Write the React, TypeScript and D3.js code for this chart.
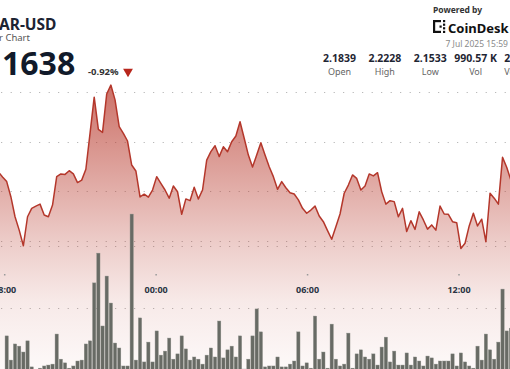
import React, { useEffect, useRef } from 'react';
import * as d3 from 'd3';

const WIDTH = 510;
const HEIGHT = 369;

// 10 minute closes, first value two steps before the 18:00 bar
const PRICE_START = -2;
const prices = [
  2.1877, 2.1857,
  2.1838, 2.1777, 2.1696, 2.1642, 2.1579, 2.1696, 2.1730, 2.1739, 2.1747, 2.1703,
  2.1696, 2.1743, 2.1858, 2.1869, 2.1867, 2.1882, 2.1869, 2.1834, 2.1844, 2.1888,
  2.2033, 2.2179, 2.2049, 2.2037, 2.2192, 2.2228, 2.2168, 2.2060, 2.2033, 2.2002,
  2.1905, 2.1881, 2.1776, 2.1787, 2.1775, 2.1804, 2.1858, 2.1831, 2.1804, 2.1771,
  2.1820, 2.1797, 2.1706, 2.1768, 2.1761, 2.1815, 2.1768, 2.1804, 2.1925, 2.1959,
  2.1983, 2.1939, 2.1979, 2.1959, 2.1999, 2.2022, 2.2080, 2.2013, 2.1945, 2.1897,
  2.1945, 2.1995, 2.1945, 2.1898, 2.1858, 2.1807, 2.1838, 2.1813, 2.1793, 2.1788,
  2.1764, 2.1730, 2.1710, 2.1723, 2.1739, 2.1699, 2.1676, 2.1640, 2.1605, 2.1656,
  2.1707, 2.1791, 2.1824, 2.1865, 2.1851, 2.1804, 2.1820, 2.1869, 2.1861, 2.1874,
  2.1797, 2.1747, 2.1761, 2.1757, 2.1696, 2.1730, 2.1636, 2.1680, 2.1645, 2.1716,
  2.1683, 2.1646, 2.1663, 2.1642, 2.1739, 2.1707, 2.1706, 2.1676, 2.1672, 2.1568,
  2.1589, 2.1659, 2.1710, 2.1659, 2.1686, 2.1595, 2.1791, 2.1771, 2.1747, 2.1936,
  2.1896, 2.1844
];

// volume per 10 minutes (thousands), from 18:00
const volumes = [
  11.0, 3.2, 8.4, 7.7, 5.8, 9.4, 1.0, 0.2, 0.6, 1.3,
  1.6, 1.9, 11.6, 3.5, 2.3, 0.6, 1.3, 2.9, 3.2, 8.4,
  9.4, 28.1, 37.7, 14.2, 30.3, 21.6, 8.7, 7.1, 1.3, 1.3,
  50.3, 3.2, 16.8, 2.6, 9.0, 2.6, 12.6, 4.8, 6.1, 10.3,
  3.5, 5.2, 11.0, 6.8, 3.2, 4.2, 3.5, 1.9, 4.8, 7.1,
  4.2, 15.8, 3.9, 6.5, 7.7, 4.2, 11.0, 0.3, 3.5, 11.0,
  19.7, 12.3, 1.0, 1.3, 1.3, 4.2, 1.0, 1.0, 1.9, 2.9,
  12.3, 1.3, 2.3, 0.6, 17.4, 3.5, 5.8, 0.6, 14.8, 3.5,
  1.3, 1.9, 11.9, 0.6, 5.2, 6.5, 4.2, 3.5, 5.2, 1.6,
  7.4, 10.6, 2.6, 6.1, 1.6, 1.6, 5.5, 1.6, 4.2, 2.9,
  1.3, 4.5, 3.9, 1.9, 2.9, 2.9, 2.9, 5.2, 1.3, 5.5,
  2.6, 1.3, 0.6, 7.7, 3.2, 11.6, 6.5, 3.5, 9.0, 26.1,
  12.6, 13.5
];

const priceTicks = [2.16, 2.18, 2.2, 2.22];
const volumeTicks = [20, 40];
const timeTicks = ['2025-07-06T18:00', '2025-07-07T00:00', '2025-07-07T06:00', '2025-07-07T12:00'];

const statValues = ['2.1839', '2.2228', '2.1533', '990.57 K', '2.16 M'];
const statLabels = ['Open', 'High', 'Low', 'Vol', 'Vol USD'];

const FONT = '"Noto Sans", "Open Sans", sans-serif';

const App = () => {
  const svgRef = useRef<SVGSVGElement>(null);

  useEffect(() => {
    document.body.style.margin = '0';
    const svg = d3.select(svgRef.current);
    svg.selectAll('*').remove();

    const x = d3.scaleLinear().domain([0, 120]).range([6.7, 506.7]);
    const xTime = d3.scaleTime()
      .domain([new Date(timeTicks[0]), new Date(timeTicks[3])])
      .range([4.7, 459]);
    const y = d3.scaleLinear().domain([2.16, 2.22]).range([240.5, 92]);
    const yVol = d3.scaleLinear().domain([0, 40]).range([370, 246]);

    const defs = svg.append('defs');
    const grad = defs.append('linearGradient')
      .attr('id', 'areaFill')
      .attr('gradientUnits', 'userSpaceOnUse')
      .attr('x1', 0).attr('x2', 0).attr('y1', 84).attr('y2', HEIGHT);
    [[0, 0.72], [0.55, 0.26], [0.76, 0.11], [1, 0.03]].forEach(([o, a]) => {
      grad.append('stop').attr('offset', o).attr('stop-color', '#b8392c').attr('stop-opacity', a);
    });

    // dotted grid
    const gridRows = [...priceTicks.map(d => y(d)), ...volumeTicks.map(d => yVol(d))];
    svg.append('g').selectAll('line').data(gridRows).enter().append('line')
      .attr('x1', 1.2).attr('x2', WIDTH)
      .attr('y1', d => Math.round(d) + 0.5).attr('y2', d => Math.round(d) + 0.5)
      .attr('stroke', '#a9a9a9')
      .attr('stroke-width', 1)
      .attr('stroke-dasharray', '1 8.5');

    const pts = prices.map((p, i) => ({ i: i + PRICE_START, p }));

    const area = d3.area<any>()
      .x(d => x(d.i))
      .y0(HEIGHT)
      .y1(d => y(d.p));
    svg.append('path').datum(pts).attr('d', area).attr('fill', 'url(#areaFill)');

    // time axis
    const axis = svg.append('g');
    timeTicks.forEach(t => {
      const tx = xTime(new Date(t));
      axis.append('rect').attr('x', tx - 0.75).attr('y', 274).attr('width', 1.5).attr('height', 1.5).attr('fill', '#999');
      axis.append('text')
        .attr('x', tx).attr('y', 292.5)
        .attr('text-anchor', 'middle')
        .style('font', `bold 9px ${FONT}`)
        .attr('fill', '#2b3444')
        .text(d3.timeFormat('%H:%M')(new Date(t)));
    });

    // volume bars
    svg.append('g').selectAll('rect').data(volumes).enter().append('rect')
      .attr('x', (d, i) => x(i) - 1.65)
      .attr('width', 3.3)
      .attr('y', d => yVol(d))
      .attr('height', d => yVol(0) - yVol(d))
      .attr('fill', '#686b65')
      .attr('stroke', '#8e918b')
      .attr('stroke-width', 0.4);

    const line = d3.line<any>().x(d => x(d.i)).y(d => y(d.p));
    svg.append('path').datum(pts).attr('d', line)
      .attr('fill', 'none')
      .attr('stroke', '#b4372b')
      .attr('stroke-width', 1.5)
      .attr('stroke-linejoin', 'round');

    // header
    const head = svg.append('g').style('font-family', FONT);
    head.append('text').attr('x', -1).attr('y', 29.5).style('font-weight', 700).style('font-size', '15.5px')
      .attr('fill', '#1c2433').text('AR-USD');
    head.append('text').attr('x', -1).attr('y', 41).style('font-size', '9.5px')
      .attr('fill', '#555').text('r Chart');
    head.append('text').attr('x', 2).attr('y', 74.5).style('font-weight', 700).style('font-size', '32px')
      .attr('fill', '#111a2a').text('1638');
    head.append('text').attr('x', 88).attr('y', 75).style('font-weight', 700).style('font-size', '9.5px')
      .attr('fill', '#333').text('-0.92%');
    head.append('path')
      .attr('transform', 'translate(128,71.5) rotate(180)')
      .attr('d', d3.symbol(d3.symbolTriangle, 42)())
      .attr('fill', '#b8261c');

    head.append('text').attr('x', 433).attr('y', 13).style('font-weight', 700).style('font-size', '8.5px')
      .attr('fill', '#333').text('Powered by');
    const logo = head.append('g').attr('fill', '#111');
    logo.append('rect').attr('x', 433).attr('y', 20).attr('width', 2.2).attr('height', 13);
    logo.append('rect').attr('x', 433).attr('y', 20).attr('width', 8).attr('height', 2.2);
    logo.append('rect').attr('x', 433).attr('y', 30.8).attr('width', 8).attr('height', 2.2);
    [[443, 20], [443, 23.6], [443, 27.2], [443, 30.8], [439.5, 25.5]].forEach(([a, b]) => {
      logo.append('rect').attr('x', a).attr('y', b).attr('width', 2.2).attr('height', 2.2);
    });
    head.append('text').attr('x', 448).attr('y', 32.5).style('font-weight', 700).style('font-size', '13px')
      .attr('fill', '#111').text('CoinDesk');
    head.append('text').attr('x', 445.5).attr('y', 47).style('font-size', '8.5px')
      .attr('fill', '#8a8a8a').text('7 Jul 2025 15:59 UTC');

    const statX = d3.scaleLinear().domain([0, 4]).range([339.5, 521]);
    statValues.forEach((v, i) => {
      head.append('text').attr('x', statX(i)).attr('y', 61.5).attr('text-anchor', 'middle')
        .style('font-weight', 700).style('font-size', '10.5px').attr('fill', '#1f2633').text(v);
      head.append('text').attr('x', statX(i)).attr('y', 74.5).attr('text-anchor', 'middle')
        .style('font-size', '9px').attr('fill', '#666').text(statLabels[i]);
    });
  }, []);

  return (
    <svg ref={svgRef} width={WIDTH} height={HEIGHT} style={{ display: 'block', background: '#fff' }} />
  );
};

export default App;
